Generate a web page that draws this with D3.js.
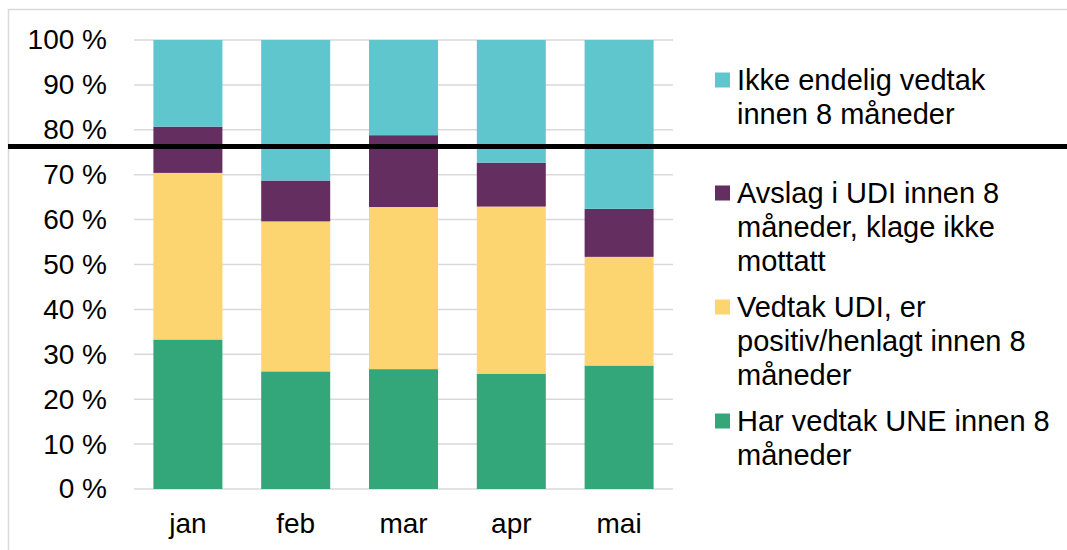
<!DOCTYPE html>
<html>
<head>
<meta charset="utf-8">
<script src="https://cdn.jsdelivr.net/npm/d3@7"></script>
<style>
  body { margin: 0; background: #fff; }
  text { font-family: "Liberation Sans", Arial, sans-serif; fill: #000; }
</style>
</head>
<body>
<script>
// Data
let months = ["jan", "feb", "mar", "apr", "mai"];
let seriesKeys = ["une", "udi", "avslag", "ikke"];
let une    = [33.3, 26.2, 26.7, 25.7, 27.5];
let udi    = [37.1, 33.4, 36.1, 37.2, 24.2];
let avslag = [10.3,  9.1, 16.0,  9.8, 10.7];
let ikke   = [19.3, 31.3, 21.2, 27.3, 37.6];
let yTicks = [0, 10, 20, 30, 40, 50, 60, 70, 80, 90, 100];
let targetLine = 76.3;

// legend, top to bottom
let legendKeys = ["ikke", "avslag", "udi", "une"];
let legendLines = [
  ["Ikke endelig vedtak", "innen 8 måneder"],
  ["Avslag i UDI innen 8", "måneder, klage ikke", "mottatt"],
  ["Vedtak UDI, er", "positiv/henlagt innen 8", "måneder"],
  ["Har vedtak UNE innen 8", "måneder"]
];

// Colors
let colors = {
  une: "#33a77a",
  udi: "#fdd570",
  avslag: "#642f60",
  ikke: "#5fc6cd"
};
let grid_color = "#d9d9d9";

let width = 1067;
let height = 550;

let svg = d3.select("body")
            .append("svg")
            .attr("width", width)
            .attr("height", height);

// Outer frame
svg.append("rect")
   .attr("x", 8.5)
   .attr("y", 9.5)
   .attr("width", width)
   .attr("height", height)
   .attr("fill", "none")
   .attr("stroke", grid_color)
   .attr("stroke-width", 1.5);

let plot = { left: 134, right: 673, top: 40, bottom: 489 };

let x = d3.scaleBand()
          .domain(months)
          .range([plot.left, plot.right])
          .paddingInner(0.36)
          .paddingOuter(0.18);

let y = d3.scaleLinear()
          .domain([0, 100])
          .range([plot.bottom, plot.top]);

// Gridlines
svg.append("g")
   .selectAll("line")
   .data(yTicks)
   .join("line")
   .attr("x1", plot.left)
   .attr("x2", plot.right)
   .attr("y1", d => y(d))
   .attr("y2", d => y(d))
   .attr("stroke", grid_color)
   .attr("stroke-width", 1.5);

// Y axis labels
let yAxis = svg.append("g")
   .attr("transform", "translate(107,0)")
   .call(d3.axisLeft(y).tickValues(yTicks).tickSize(0).tickPadding(0).tickFormat(d => d + " %"));
yAxis.select(".domain").remove();
yAxis.selectAll("text")
     .style("font-size", "28px")
     .attr("font-family", null);

// X axis labels
let xAxis = svg.append("g")
   .attr("transform", "translate(0," + plot.bottom + ")")
   .call(d3.axisBottom(x).tickSize(0).tickPadding(24));
xAxis.select(".domain").remove();
xAxis.selectAll("text")
     .style("font-size", "28px")
     .attr("font-family", null);

// Stacked bars
let table = months.map((m, i) => ({
  month: m, une: une[i], udi: udi[i], avslag: avslag[i], ikke: ikke[i]
}));
let stacked = d3.stack().keys(seriesKeys)(table);

svg.append("g")
   .selectAll("g")
   .data(stacked)
   .join("g")
   .attr("fill", d => colors[d.key])
   .selectAll("rect")
   .data(d => d)
   .join("rect")
   .attr("x", d => x(d.data.month))
   .attr("width", x.bandwidth())
   .attr("y", d => y(d[1]))
   .attr("height", d => y(d[0]) - y(d[1]));

// Target line
svg.append("line")
   .attr("x1", 8)
   .attr("x2", width)
   .attr("y1", y(targetLine))
   .attr("y2", y(targetLine))
   .attr("stroke", "#000")
   .attr("stroke-width", 5);

// Legend
let legendTop = [80, 193, 307, 421];
let lineH = 34;
let legend = svg.append("g");
legendKeys.forEach((k, i) => {
  legend.append("rect")
        .attr("x", 715)
        .attr("y", legendTop[i] - 7.5)
        .attr("width", 15)
        .attr("height", 15)
        .attr("fill", colors[k]);
  legend.append("text")
        .style("font-size", "29px")
        .selectAll("tspan")
        .data(legendLines[i])
        .join("tspan")
        .attr("x", 737)
        .attr("y", (d, j) => legendTop[i] + j * lineH)
        .attr("dy", "0.35em")
        .text(d => d);
});
</script>
</body>
</html>
